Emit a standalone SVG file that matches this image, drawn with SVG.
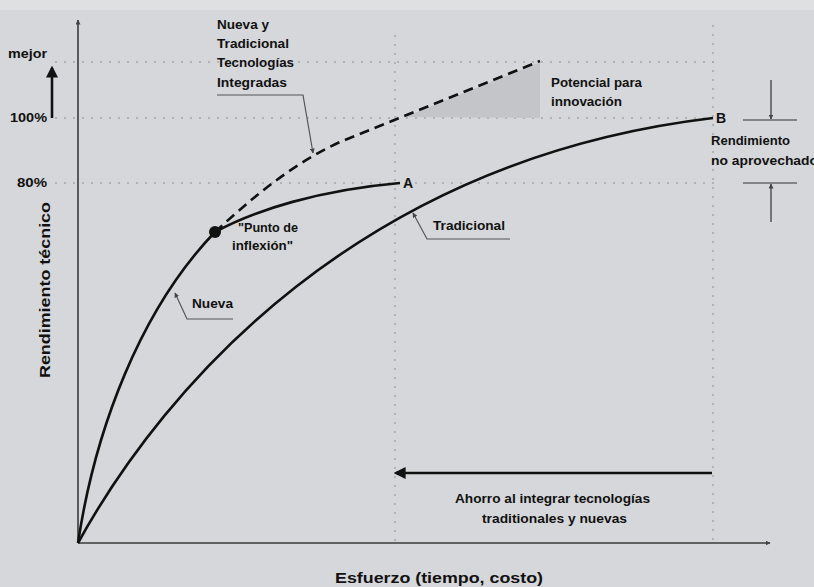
<svg xmlns="http://www.w3.org/2000/svg" width="814" height="587" viewBox="0 0 814 587">
<defs>
<style>
text{font-family:"Liberation Sans",Arial,sans-serif;font-weight:bold;fill:#111}
.s{font-size:12px}
.t{font-size:15px}
.grid{stroke:#a6a7aa;stroke-width:1.5;stroke-dasharray:2 7;fill:none}
.axis{stroke:#3a3a3a;stroke-width:1.6;fill:none}
.curve{stroke:#111;stroke-width:2.6;fill:none}
.lead{stroke:#555;stroke-width:1.2;fill:none}
</style>
<marker id="ah" viewBox="0 0 10 10" refX="9" refY="5" markerWidth="6" markerHeight="6" orient="auto" markerUnits="userSpaceOnUse"><path d="M0,0 L10,5 L0,10 z" fill="#222"/></marker>
<marker id="ahs" viewBox="0 0 10 10" refX="9" refY="5" markerWidth="5" markerHeight="5" orient="auto" markerUnits="userSpaceOnUse"><path d="M0,0 L10,5 L0,10 z" fill="#444"/></marker>
<marker id="ahb" viewBox="0 0 10 10" refX="8" refY="5" markerWidth="12" markerHeight="12" orient="auto" markerUnits="userSpaceOnUse"><path d="M0,0 L10,5 L0,10 z" fill="#111"/></marker>
</defs>
<rect x="0" y="0" width="814" height="587" fill="#d6d7da"/>
<rect x="0" y="0" width="814" height="10" fill="#dfe0e2"/>

<g id="grid">
<line class="grid" x1="55" y1="62" x2="720" y2="62"/>
<line class="grid" x1="55" y1="118" x2="713" y2="118"/>
<line class="grid" x1="55" y1="183" x2="717" y2="183"/>
<line class="grid" x1="395" y1="35" x2="395" y2="543"/>
<line class="grid" x1="713" y1="25" x2="713" y2="543"/>
</g>

<g id="potencial-area">
<polygon points="405,117 540,62 540,118" fill="#c4c5c8"/>
</g>

<g id="axes">
<line class="axis" x1="78" y1="543" x2="78" y2="20" marker-end="url(#ahs)"/>
<line class="axis" x1="78" y1="543" x2="770" y2="543" marker-end="url(#ahs)"/>
</g>

<g id="connectors">
<path id="curve-tradicional" class="curve" d="M78,543 C165,385 360,160 713,118"/>
<path id="curve-nueva" class="curve" d="M78,543 C95,430 140,310 215,232 C255,210 320,190 400,183"/>
<path id="curve-integrada" class="curve" stroke-dasharray="10 6" d="M215,232 C250,200 290,165 340,142 L540,61"/>
<line x1="712" y1="473" x2="396" y2="473" stroke="#111" stroke-width="2.6" marker-end="url(#ahb)"/>
<line x1="52" y1="118" x2="52" y2="68" stroke="#111" stroke-width="2.6" marker-end="url(#ahb)"/>
<polyline class="lead" points="217,95 303,95 313,153" marker-end="url(#ahs)"/>
<polyline class="lead" points="233,319 187,319 175,293" marker-end="url(#ahs)"/>
<polyline class="lead" points="510,239 427,239 413,213" marker-end="url(#ahs)"/>
<line stroke="#333" stroke-width="1.2" x1="743" y1="120" x2="797" y2="120"/>
<line stroke="#333" stroke-width="1.2" x1="771" y1="80" x2="771" y2="119" marker-end="url(#ahs)"/>
<line stroke="#333" stroke-width="1.2" x1="743" y1="183" x2="797" y2="183"/>
<line stroke="#333" stroke-width="1.2" x1="771" y1="222" x2="771" y2="184" marker-end="url(#ahs)"/>
</g>

<g id="inflexion">
<circle cx="215" cy="232" r="6" fill="#111"/>
<text class="s" x="238" y="232" textLength="60" lengthAdjust="spacingAndGlyphs">"Punto de</text>
<text class="s" x="232" y="250" textLength="61" lengthAdjust="spacingAndGlyphs">inflexión"</text>
</g>

<g id="label-mejor">
<text class="s" x="8" y="58" textLength="39" lengthAdjust="spacingAndGlyphs">mejor</text>
</g>
<g id="label-100">
<text class="s" x="10" y="122" textLength="37" lengthAdjust="spacingAndGlyphs">100%</text>
</g>
<g id="label-80">
<text class="s" x="17" y="187" textLength="30" lengthAdjust="spacingAndGlyphs">80%</text>
</g>

<g id="label-integradas">
<text class="s" x="217" y="29" textLength="52" lengthAdjust="spacingAndGlyphs">Nueva y</text>
<text class="s" x="217" y="48" textLength="72" lengthAdjust="spacingAndGlyphs">Tradicional</text>
<text class="s" x="217" y="67" textLength="77" lengthAdjust="spacingAndGlyphs">Tecnologías</text>
<text class="s" x="217" y="87" textLength="70" lengthAdjust="spacingAndGlyphs">Integradas</text>
</g>

<g id="label-potencial">
<text class="s" x="551" y="87" textLength="91" lengthAdjust="spacingAndGlyphs">Potencial para</text>
<text class="s" x="551" y="106" textLength="71" lengthAdjust="spacingAndGlyphs">innovación</text>
</g>

<g id="label-A">
<text x="403" y="188" font-size="14">A</text>
</g>
<g id="label-B">
<text x="716" y="123" font-size="14">B</text>
</g>

<g id="label-nueva">
<text class="s" x="192" y="308" textLength="41" lengthAdjust="spacingAndGlyphs">Nueva</text>
</g>
<g id="label-tradicional">
<text class="s" x="433" y="230" textLength="72" lengthAdjust="spacingAndGlyphs">Tradicional</text>
</g>

<g id="label-no-aprovechado">
<text class="s" x="711" y="145" textLength="79" lengthAdjust="spacingAndGlyphs">Rendimiento</text>
<text class="s" x="711" y="165" textLength="107" lengthAdjust="spacingAndGlyphs">no aprovechado</text>
</g>

<g id="label-ahorro">
<text class="s" x="455" y="503" textLength="195" lengthAdjust="spacingAndGlyphs">Ahorro al integrar tecnologías</text>
<text class="s" x="482" y="523" textLength="145" lengthAdjust="spacingAndGlyphs">traditionales y nuevas</text>
</g>

<g id="axis-y-title">
<text class="t" transform="translate(50,378) rotate(-90)" x="0" y="0" textLength="176" lengthAdjust="spacingAndGlyphs">Rendimiento técnico</text>
</g>
<g id="axis-x-title">
<text class="t" x="335" y="583" textLength="208" lengthAdjust="spacingAndGlyphs">Esfuerzo (tiempo, costo)</text>
</g>
</svg>
